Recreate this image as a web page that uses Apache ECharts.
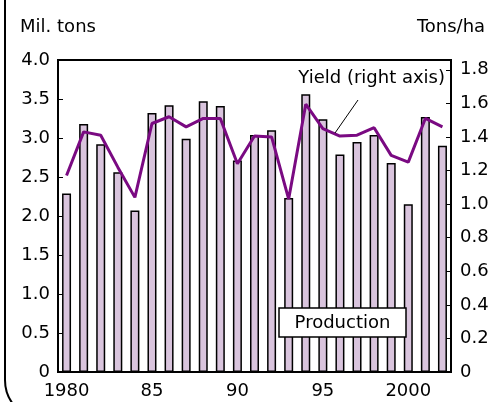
<!DOCTYPE html>
<html>
<head>
<meta charset="utf-8">
<script src="https://cdn.jsdelivr.net/npm/echarts@6/dist/echarts.min.js"></script>
<style>
html,body{margin:0;padding:0;background:#fff;}
#chart{width:493px;height:402px;}
</style>
</head>
<body>
<div id="chart"></div>
<script>
var years = ['1980','1981','1982','1983','1984','1985','1986','1987','1988','1989','1990','1991','1992','1993','1994','1995','1996','1997','1998','1999','2000','2001','2002'];
var production = [2.29,3.18,2.92,2.56,2.07,3.32,3.42,2.99,3.47,3.41,2.71,3.04,3.10,2.23,3.56,3.24,2.79,2.95,3.04,2.68,2.15,3.27,2.90];
var yieldVals = [1.17,1.43,1.41,1.22,1.04,1.48,1.52,1.46,1.51,1.51,1.24,1.405,1.40,1.03,1.595,1.45,1.405,1.41,1.455,1.29,1.25,1.51,1.46];
var xTickLabels = {'1980':'1980','1985':'85','1990':'90','1995':'95','2000':'2000'};
var leftTicks = ['0','0.5','1.0','1.5','2.0','2.5','3.0','3.5','4.0'];
var rightTicks = ['0','0.2','0.4','0.6','0.8','1.0','1.2','1.4','1.6','1.8'];
var leftName = 'Mil. tons';
var rightName = 'Tons/ha';
var yieldLabel = 'Yield (right axis)';
var prodLabel = 'Production';

var FONT = 'DejaVu Sans';
var FS = 18;
var chart = echarts.init(document.getElementById('chart'), null, {renderer:'canvas'});
var option = {
  animation: false,
  backgroundColor: '#fff',
  grid: {left: 58, right: 42, top: 60, bottom: 30, show: true, borderColor: '#000', borderWidth: 2, backgroundColor: 'transparent'},
  xAxis: {
    type: 'category', data: years, boundaryGap: true,
    axisLine: {lineStyle: {color: '#000', width: 2}},
    axisTick: {alignWithLabel: true, interval: 0, length: 8, lineStyle: {color: '#000', width: 1}},
    axisLabel: {interval: 0, margin: 10, color: '#000', fontFamily: FONT, fontSize: FS,
      formatter: function (v) { return xTickLabels[v] || ''; }}
  },
  yAxis: [{
    type: 'value', min: 0, max: 4, interval: 0.5, position: 'left',
    name: leftName, nameLocation: 'end', nameGap: 33,
    nameTextStyle: {color: '#000', fontFamily: FONT, fontSize: FS, verticalAlign: 'middle', align: 'center'},
    axisLine: {show: true, lineStyle: {color: '#000', width: 2}},
    axisTick: {show: true, inside: true, length: 5, lineStyle: {color: '#000', width: 1}},
    splitLine: {show: false},
    axisLabel: {margin: 8, color: '#000', fontFamily: FONT, fontSize: FS,
      formatter: function (v) { var i = Math.round(v / 0.5); return Math.abs(v - i * 0.5) < 1e-6 ? leftTicks[i] : ''; }}
  }, {
    type: 'value', min: 0, max: 1.8 * 4 / 3.875, interval: 0.2, position: 'right',
    name: rightName, nameLocation: 'end', nameGap: 33,
    nameTextStyle: {color: '#000', fontFamily: FONT, fontSize: FS, verticalAlign: 'middle', align: 'center'},
    axisLine: {show: true, lineStyle: {color: '#000', width: 2}},
    axisTick: {show: true, inside: true, length: 5, lineStyle: {color: '#000', width: 1}},
    splitLine: {show: false},
    axisLabel: {margin: 9, color: '#000', fontFamily: FONT, fontSize: FS, showMaxLabel: false,
      formatter: function (v) { var i = Math.round(v / 0.2); return Math.abs(v - i * 0.2) < 1e-6 && rightTicks[i] ? rightTicks[i] : ''; }}
  }],
  series: [{
    type: 'bar', data: production, yAxisIndex: 0, barWidth: 9,
    itemStyle: {color: '#d9c4dd', borderColor: '#000', borderWidth: 1.5}
  }, {
    type: 'line', data: yieldVals, yAxisIndex: 1, symbol: 'none',
    lineStyle: {color: '#7a0a82', width: 3}
  }],
  graphic: [
    {type: 'rect', shape: {x: 5, y: -40, width: 700, height: 460, r: 40}, style: {fill: 'none', stroke: '#000', lineWidth: 2}, z: 100},
    {type: 'text', x: 445, y: 78, style: {text: yieldLabel, fontFamily: FONT, fontSize: FS, fill: '#000', textAlign: 'right', textVerticalAlign: 'middle'}, z: 100},
    {type: 'line', shape: {x1: 358, y1: 100, x2: 335, y2: 133}, style: {stroke: '#000', lineWidth: 1}, z: 100},
    {type: 'rect', shape: {x: 279, y: 308, width: 127, height: 29}, style: {fill: '#fff', stroke: '#000', lineWidth: 1.5}, z: 100},
    {type: 'text', x: 342.5, y: 323, style: {text: prodLabel, fontFamily: FONT, fontSize: FS, fill: '#000', textAlign: 'center', textVerticalAlign: 'middle'}, z: 101}
  ]
};
chart.setOption(option);
</script>
</body>
</html>
